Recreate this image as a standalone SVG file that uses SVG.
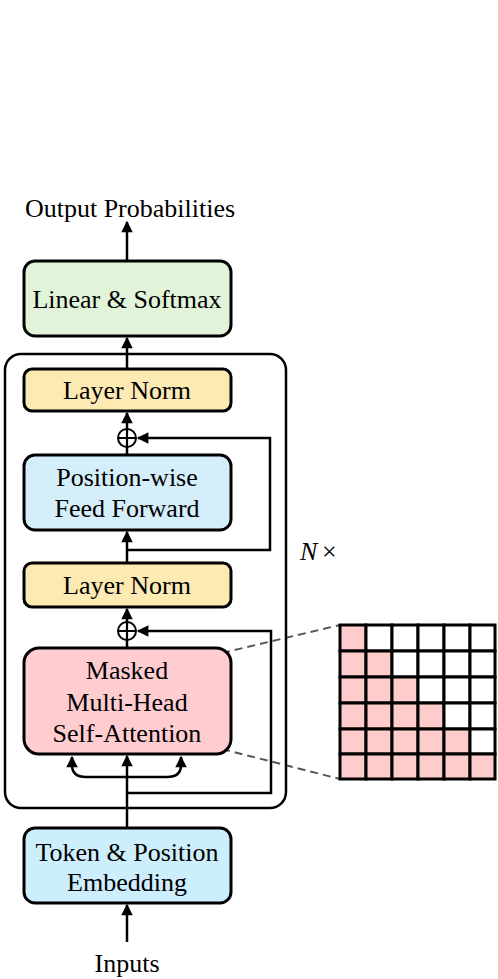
<svg xmlns="http://www.w3.org/2000/svg" width="498" height="979" viewBox="0 0 498 979">
<style>
.box{stroke:#000;stroke-width:3}
.t{font-family:"Liberation Serif","Times New Roman",serif;font-size:26px;fill:#000;text-anchor:middle}
.ln{fill:none;stroke:#000;stroke-width:2.5}
.dash{fill:none;stroke:#555;stroke-width:2;stroke-dasharray:8 5}
.cell{stroke:#000;stroke-width:3}
.p{fill:#ffcccc}
.w{fill:#fff}
</style>
<defs>
<marker id="ah" viewBox="0 0 10 10" refX="9" refY="5" markerWidth="5" markerHeight="4.6" orient="auto" markerUnits="strokeWidth">
<path d="M0,0 L10,5 L0,10 z" fill="#000"/>
</marker>
</defs>
<rect width="498" height="979" fill="#fff"/>

<g id="dashes">
<line class="dash" x1="222" y1="653" x2="340" y2="625"/>
<line class="dash" x1="222" y1="749" x2="340" y2="779"/>
</g>

<g id="nblock">
<rect x="5" y="354" width="281" height="454" rx="16" fill="none" stroke="#000" stroke-width="2.5"/>
<text x="300" y="560" font-family="Liberation Serif,serif" font-size="26" font-style="italic">N</text>
<text x="322" y="560" font-family="Liberation Serif,serif" font-size="26">×</text>
</g>

<g id="connectors">
<line class="ln" x1="127" y1="942" x2="127" y2="905" marker-end="url(#ah)"/>
<line class="ln" x1="127" y1="828" x2="127" y2="756" marker-end="url(#ah)"/>
<path class="ln" d="M127,777 H86 Q72,777 72,765 V757" marker-end="url(#ah)"/>
<path class="ln" d="M127,777 H167 Q181,777 181,765 V757" marker-end="url(#ah)"/>
<path class="ln" d="M127,793 H271 V631 H138" marker-end="url(#ah)"/>
<line class="ln" x1="127" y1="648" x2="127" y2="640"/>
<line class="ln" x1="127" y1="622" x2="127" y2="609" marker-end="url(#ah)"/>
<line class="ln" x1="127" y1="563" x2="127" y2="532" marker-end="url(#ah)"/>
<path class="ln" d="M127,550 H270 V438 H138" marker-end="url(#ah)"/>
<line class="ln" x1="127" y1="455" x2="127" y2="447"/>
<line class="ln" x1="127" y1="429" x2="127" y2="413" marker-end="url(#ah)"/>
<line class="ln" x1="127" y1="369" x2="127" y2="338" marker-end="url(#ah)"/>
<line class="ln" x1="127" y1="261" x2="127" y2="222" marker-end="url(#ah)"/>
</g>

<g id="add1">
<circle cx="127" cy="438" r="9" fill="#fff" stroke="#000" stroke-width="2"/>
<path d="M118,438 H136 M127,429 V447" stroke="#000" stroke-width="2.2"/>
</g>
<g id="add2">
<circle cx="127" cy="631" r="9" fill="#fff" stroke="#000" stroke-width="2"/>
<path d="M118,631 H136 M127,622 V640" stroke="#000" stroke-width="2.2"/>
</g>

<g id="output">
<text class="t" x="130" y="217">Output Probabilities</text>
</g>
<g id="linear">
<rect class="box" x="24" y="261" width="207" height="75" rx="11" fill="#e1f4d9"/>
<text class="t" x="127" y="308">Linear &amp; Softmax</text>
</g>
<g id="ln1">
<rect class="box" x="24" y="369" width="207" height="42" rx="8" fill="#fdeab3"/>
<text class="t" x="127" y="399">Layer Norm</text>
</g>
<g id="ffn">
<rect class="box" x="24" y="455" width="207" height="75" rx="11" fill="#d4eefa"/>
<text class="t" x="127" y="486">Position-wise</text>
<text class="t" x="127" y="517">Feed Forward</text>
</g>
<g id="ln2">
<rect class="box" x="24" y="563" width="207" height="44" rx="8" fill="#fdeab3"/>
<text class="t" x="127" y="594">Layer Norm</text>
</g>
<g id="mha">
<rect class="box" x="24" y="648" width="207" height="106" rx="15" fill="#ffcdd0"/>
<text class="t" x="127" y="679">Masked</text>
<text class="t" x="127" y="711">Multi-Head</text>
<text class="t" x="127" y="742">Self-Attention</text>
</g>
<g id="embed">
<rect class="box" x="24" y="828" width="207" height="75" rx="11" fill="#cdeefc"/>
<text class="t" x="127" y="861">Token &amp; Position</text>
<text class="t" x="127" y="891">Embedding</text>
</g>
<g id="inputs">
<text class="t" x="127" y="972">Inputs</text>
</g>

<g id="mask">
<rect class="cell p" x="340" y="625" width="26" height="26"/><rect class="cell w" x="366" y="625" width="26" height="26"/><rect class="cell w" x="392" y="625" width="26" height="26"/><rect class="cell w" x="418" y="625" width="26" height="26"/><rect class="cell w" x="444" y="625" width="26" height="26"/><rect class="cell w" x="470" y="625" width="25" height="26"/>
<rect class="cell p" x="340" y="651" width="26" height="26"/><rect class="cell p" x="366" y="651" width="26" height="26"/><rect class="cell w" x="392" y="651" width="26" height="26"/><rect class="cell w" x="418" y="651" width="26" height="26"/><rect class="cell w" x="444" y="651" width="26" height="26"/><rect class="cell w" x="470" y="651" width="25" height="26"/>
<rect class="cell p" x="340" y="677" width="26" height="26"/><rect class="cell p" x="366" y="677" width="26" height="26"/><rect class="cell p" x="392" y="677" width="26" height="26"/><rect class="cell w" x="418" y="677" width="26" height="26"/><rect class="cell w" x="444" y="677" width="26" height="26"/><rect class="cell w" x="470" y="677" width="25" height="26"/>
<rect class="cell p" x="340" y="703" width="26" height="26"/><rect class="cell p" x="366" y="703" width="26" height="26"/><rect class="cell p" x="392" y="703" width="26" height="26"/><rect class="cell p" x="418" y="703" width="26" height="26"/><rect class="cell w" x="444" y="703" width="26" height="26"/><rect class="cell w" x="470" y="703" width="25" height="26"/>
<rect class="cell p" x="340" y="729" width="26" height="25"/><rect class="cell p" x="366" y="729" width="26" height="25"/><rect class="cell p" x="392" y="729" width="26" height="25"/><rect class="cell p" x="418" y="729" width="26" height="25"/><rect class="cell p" x="444" y="729" width="26" height="25"/><rect class="cell w" x="470" y="729" width="25" height="25"/>
<rect class="cell p" x="340" y="754" width="26" height="25"/><rect class="cell p" x="366" y="754" width="26" height="25"/><rect class="cell p" x="392" y="754" width="26" height="25"/><rect class="cell p" x="418" y="754" width="26" height="25"/><rect class="cell p" x="444" y="754" width="26" height="25"/><rect class="cell p" x="470" y="754" width="25" height="25"/>
</g>
</svg>
